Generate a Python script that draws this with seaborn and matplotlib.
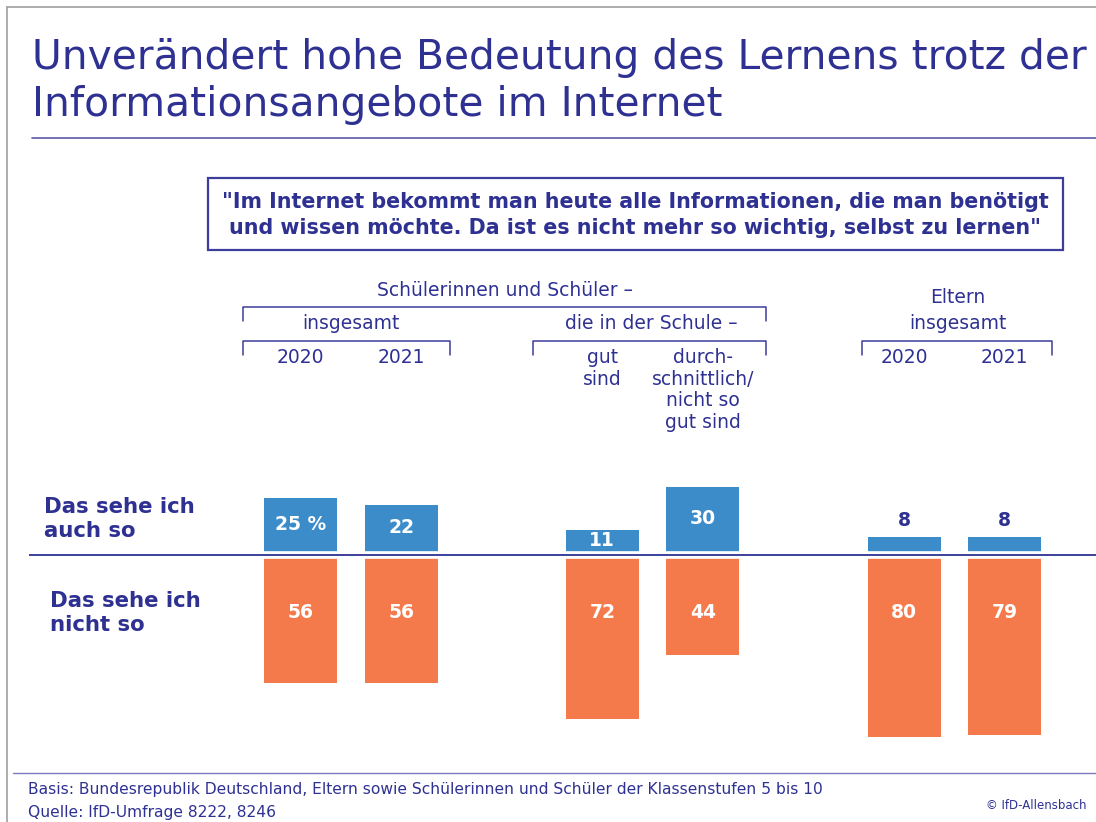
import numpy as np
import pandas as pd
import matplotlib
matplotlib.use("Agg")
import matplotlib.pyplot as plt
from matplotlib.patches import Rectangle
import seaborn as sns

# ---- data ----
groups = ["Schüler 2020", "Schüler 2021", "gut sind", "durchschnittlich/nicht so gut sind",
          "Eltern 2020", "Eltern 2021"]
agree = [25, 22, 11, 30, 8, 8]          # "Das sehe ich auch so"
disagree = [56, 56, 72, 44, 80, 79]     # "Das sehe ich nicht so"
col_labels = ["2020", "2021", "gut\nsind", "durch-\nschnittlich/\nnicht so\ngut sind", "2020", "2021"]

title = "Unverändert hohe Bedeutung des Lernens trotz der\nInformationsangebote im Internet"
quote = ("\"Im Internet bekommt man heute alle Informationen, die man benötigt\n"
         "und wissen möchte. Da ist es nicht mehr so wichtig, selbst zu lernen\"")
row_labels = ["Das sehe ich\nauch so", "Das sehe ich\nnicht so"]
basis = "Basis: Bundesrepublik Deutschland, Eltern sowie Schülerinnen und Schüler der Klassenstufen 5 bis 10"
source = "Quelle: IfD-Umfrage 8222, 8246"
copyright_txt = "© IfD-Allensbach"

# ---- style ----
NAVY = "#2e3192"
BLUE = "#3b8cc9"
ORANGE = "#f47a4c"
GRAY = "#a0a0a0"
W, H = 1096, 822

sns.set_theme(style="white")
plt.rcParams["font.family"] = ["DejaVu Sans"]

fig = plt.figure(figsize=(W / 100, H / 100), dpi=100)
ax = fig.add_axes([0, 0, 1, 1])

# slot positions (gaps between groups)
positions = [0, 1, 3, 4, 6, 7]
px_per_slot = 100.6
x0_px = 300.5
px_per_unit = 2.28
zero_px = 555

df = pd.DataFrame({
    "pos": positions * 2,
    "val": agree + [-v for v in disagree],
    "kind": ["agree"] * len(agree) + ["disagree"] * len(disagree),
})
sns.barplot(data=df, x="pos", y="val", hue="kind", palette={"agree": BLUE, "disagree": ORANGE},
            native_scale=True, dodge=False, width=0.726, legend=False, ax=ax,
            linewidth=0, saturation=1, errorbar=None)

ax.set_xlim(-x0_px / px_per_slot, (W - x0_px) / px_per_slot)
ax.set_ylim(-(H - zero_px) / px_per_unit, zero_px / px_per_unit)
ax.axis("off")


def P(x, y):
    """pixel (from top-left) -> figure fraction"""
    return x / W, 1 - y / H


def xpx(p):
    return x0_px + p * px_per_slot


# zero line with white gap
xl = [-(x0_px - 29) / px_per_slot, (W - x0_px) / px_per_slot]
ax.plot(xl, [0, 0], color="white", lw=5.5, solid_capstyle="butt", zorder=3)
ax.plot(xl, [0, 0], color=NAVY, lw=1.3, solid_capstyle="butt", zorder=4)

# bar labels
for i, (p, a, d) in enumerate(zip(positions, agree, disagree)):
    lab = f"{a} %" if i == 0 else f"{a}"
    if a >= 10:
        ax.text(p, a / 2 + 1, lab, ha="center", va="center", color="white", fontsize=13.5,
                fontweight="bold", zorder=5)
    else:
        ax.text(p, a + 7, lab, ha="center", va="center", color=NAVY, fontsize=13.5,
                fontweight="bold", zorder=5)
    ax.text(p, -25, f"{d}", ha="center", va="center", color="white", fontsize=13.5,
            fontweight="bold", zorder=5)

# frame lines
fig.add_artist(plt.Line2D([7 / W, 1], [1 - 7 / H] * 2, color=GRAY, lw=1.2))
fig.add_artist(plt.Line2D([7 / W] * 2, [1 - 7 / H, 0], color=GRAY, lw=1.2))

# title
fig.text(*P(32, 38), title, ha="left", va="top", color=NAVY, fontsize=29.3,
         linespacing=1.22)
fig.add_artist(plt.Line2D([32 / W, 1], [1 - 138 / H] * 2, color="#5a5aa8", lw=1.2))

# quote box
fig.add_artist(Rectangle(P(208, 250), (1063 - 208) / W, 72 / H, transform=fig.transFigure,
                         fill=False, edgecolor="#3d3d9c", lw=1.6))
fig.text(*P(635, 215), quote, ha="center", va="center", color=NAVY, fontsize=14.9,
         fontweight="bold", linespacing=1.4)


def bracket(x1, x2, y, tick=14):
    fig.add_artist(plt.Line2D([x1 / W, x1 / W, x2 / W, x2 / W],
                              [1 - (y + tick) / H, 1 - y / H, 1 - y / H, 1 - (y + tick) / H],
                              color="#3d3d9c", lw=1.1))


hdr = dict(color=NAVY, fontsize=13.5, ha="center")
fig.text(*P(505, 290), "Schülerinnen und Schüler –", va="center", **hdr)
bracket(243, 766, 307)
fig.text(*P(351, 323), "insgesamt", va="center", **hdr)
fig.text(*P(651, 323), "die in der Schule –", va="center", **hdr)
bracket(243, 450, 341)
bracket(533, 766, 341)
fig.text(*P(958, 297), "Eltern", va="center", **hdr)
fig.text(*P(958, 323), "insgesamt", va="center", **hdr)
bracket(862, 1052, 341)

for p, lab in zip(positions, col_labels):
    fig.text(*P(xpx(p), 348), lab, va="top", linespacing=1.18, **hdr)

# row labels
fig.text(*P(44, 519), row_labels[0], ha="left", va="center", color=NAVY, fontsize=15.3,
         fontweight="bold", linespacing=1.2)
fig.text(*P(50, 613), row_labels[1], ha="left", va="center", color=NAVY, fontsize=15.3,
         fontweight="bold", linespacing=1.2)

# footer
fig.add_artist(plt.Line2D([13 / W, 1], [1 - 773 / H] * 2, color="#7b7bc0", lw=1.0))
fig.text(*P(28, 789), basis, ha="left", va="center", color=NAVY, fontsize=11.2)
fig.text(*P(28, 812), source, ha="left", va="center", color=NAVY, fontsize=11.2)
fig.text(*P(1086, 805), copyright_txt, ha="right", va="center", color=NAVY, fontsize=8.5)

fig.savefig("out.png", dpi=100)
